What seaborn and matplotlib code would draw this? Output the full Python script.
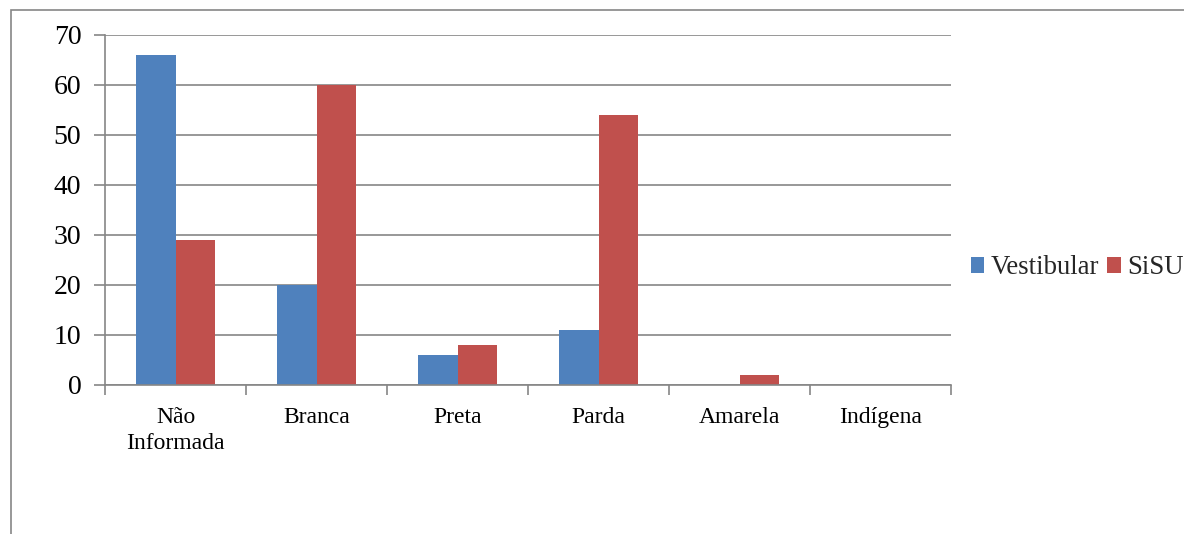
import matplotlib
matplotlib.use("Agg")
import matplotlib.pyplot as plt
import seaborn as sns
import pandas as pd
import numpy as np
from matplotlib.patches import Rectangle

categories = ["Não\nInformada", "Branca", "Preta", "Parda", "Amarela", "Indígena"]
vestibular = [66, 20, 6, 11, 0, 0]
sisu = [29, 60, 8, 54, 2, 0]
series_names = ["Vestibular", "SiSU"]
yticks = [0, 10, 20, 30, 40, 50, 60, 70]

df = pd.DataFrame({
    "cat": categories * 2,
    "val": vestibular + sisu,
    "serie": [series_names[0]] * len(categories) + [series_names[1]] * len(categories),
})

sns.set_theme(style="white")
plt.rcParams["font.family"] = ["Liberation Serif", "DejaVu Serif"]

fig = plt.figure(figsize=(11.84, 5.34), dpi=100)
ax = fig.add_axes([105/1184, 1-385/534, (951-105)/1184, 350/534])

palette = {"Vestibular": "#4F81BD", "SiSU": "#C0504D"}
sns.barplot(data=df, x="cat", y="val", hue="serie", order=categories,
            hue_order=series_names, palette=palette, width=0.567, gap=0,
            saturation=1, ax=ax, linewidth=0, errorbar=None)

ax.set_ylim(0, 70)
ax.set_xlim(-0.5, len(categories) - 0.5)
ax.set_yticks(yticks)
ax.yaxis.grid(True, color="#868686", linewidth=1.2)
ax.set_axisbelow(True)
ax.set_xlabel("")
ax.set_ylabel("")
for s in ["top", "right"]:
    ax.spines[s].set_visible(False)
for s in ["left", "bottom"]:
    ax.spines[s].set_color("#868686")
    ax.spines[s].set_linewidth(1.2)

ax.tick_params(axis="y", labelsize=20, length=8, width=1.2, color="#868686",
               left=True, pad=9, labelcolor="black")
ax.set_xticks(np.arange(len(categories)))
ax.set_xticklabels(categories, fontsize=17, linespacing=1.3)
ax.tick_params(axis="x", which="major", length=0, pad=16, labelcolor="black")
ax.set_xticks(np.arange(-0.5, len(categories)), minor=True)
ax.tick_params(axis="x", which="minor", length=7, width=1.2, color="#868686", bottom=True)

leg = ax.legend(loc="center left", bbox_to_anchor=(960/1184, 1-268/534),
                bbox_transform=fig.transFigure, ncol=2, frameon=False,
                fontsize=19.3, handlelength=0.5, handleheight=0.5,
                handletextpad=0.25, columnspacing=0.3, borderaxespad=0)

fig.patches.append(Rectangle((10.5/1184, -0.1), 1.2, 1.1 - 10.5/534,
                             transform=fig.transFigure, fill=False,
                             edgecolor="#868686", linewidth=1.2))

fig.savefig("out.png", dpi=100)
